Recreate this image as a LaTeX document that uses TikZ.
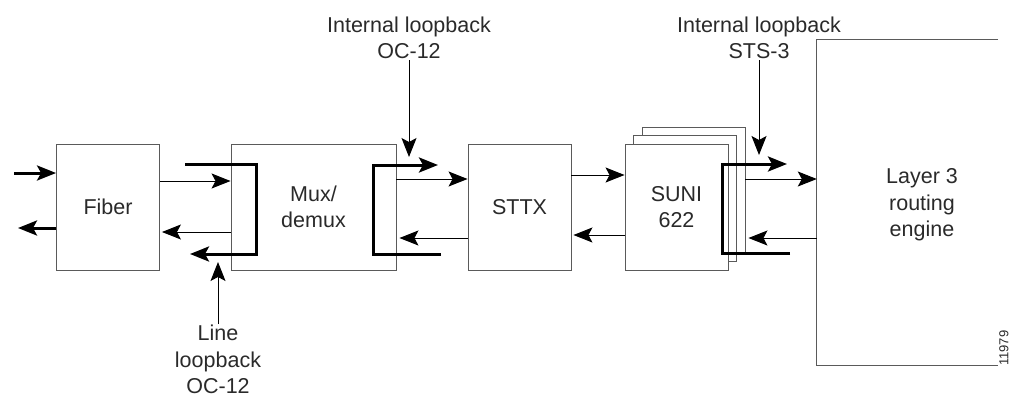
\documentclass[tikz,border=0pt]{standalone}
\usepackage{fontspec}
\setmainfont{Liberation Sans}
\usetikzlibrary{arrows.meta,positioning}
\definecolor{edge}{HTML}{5A5A5A}
\definecolor{ink}{HTML}{2A2A2A}
\tikzset{
  blk/.style={draw=edge,line width=0.9pt,fill=white,inner sep=0pt,
    minimum width=103pt,minimum height=126pt,align=center,text=ink,
    font=\fontsize{21.5}{26}\selectfont},
  lbl/.style={align=center,text=ink,inner sep=1pt,
    font=\fontsize{21.5}{26.5}\selectfont},
  tip/.style={-{Stealth[length=19pt,width=15pt,inset=4pt]}},
  thin/.style={tip,line width=1pt},
  thick/.style={tip,line width=3pt},
}
\begin{document}
\begin{tikzpicture}[x=1pt,y=-1pt]
\useasboundingbox (0,0) rectangle (1011,400);

% functional blocks
\node[blk] (fiber) at (108,207) {Fiber};
\node[blk,minimum width=165pt] (mux) at (313.5,207) {Mux/\\demux};
\node[blk] (sttx) at (519.5,207) {STTX};
\node[blk] (suniC) at (693.5,190) {};
\node[blk] (suniB) at (685,198.5) {};
\node[blk] (suni) at (676.5,207) {SUNI\\622};

% routing engine: open frame on the right
\node[minimum width=181pt,minimum height=325pt,inner sep=0pt] (l3) at (907.5,202.5) {};
\draw[draw=edge,line width=0.9pt] (l3.north east) -- (l3.north west) -- (l3.south west) -- (l3.south east);
\node[lbl] (l3txt) at (922,205) {Layer 3\\routing\\engine};

% external fiber ports
\coordinate (inS) at (14,173);
\coordinate (outE) at (18,228);
\draw[thick] (inS) -- (fiber.west |- inS);
\draw[thick] ([yshift=-21pt]fiber.west) -- (outE);

% data paths between blocks
\draw[thin] ([yshift=26pt]fiber.east) -- ([yshift=26pt]mux.west);
\draw[thin] ([yshift=-25pt]mux.west) -- ([yshift=-25pt,xshift=2pt]fiber.east);
\draw[thin] ([yshift=28pt]mux.east) -- ([yshift=28pt]sttx.west);
\draw[thin] ([yshift=-31pt]sttx.west) -- ([yshift=-31pt,xshift=3pt]mux.east);
\draw[thin] ([yshift=32pt]sttx.east) -- ([yshift=32pt]suni.west);
\draw[thin] ([yshift=-28pt]suni.west) -- ([yshift=-28pt,xshift=2pt]sttx.east);
\draw[thin] (suniC.east |- 0,179) -- (l3.west |- 0,179);
\draw[thin] (l3.west |- 0,238) -- ([xshift=3pt]suniC.east |- 0,238);

% loopback paths
\coordinate (llA) at (185,164);
\coordinate (llB) at (256,164);
\coordinate (llC) at (256,254);
\coordinate (llD) at (190,254);
\draw[thick,line join=miter] (llA) -- (llB) -- (llC) -- (llD);

\coordinate (ilA) at (441,254);
\coordinate (ilB) at (373,254);
\coordinate (ilC) at (373,165);
\coordinate (ilD) at (438,165);
\draw[thick,line join=miter] (ilA) -- (ilB) -- (ilC) -- (ilD);

\coordinate (isA) at (790,253);
\coordinate (isB) at (722,253);
\coordinate (isC) at (722,164);
\coordinate (isD) at (787,164);
\draw[thick,line join=miter] (isA) -- (isB) -- (isC) -- (isD);

% loopback callouts
\node[lbl,anchor=south] (cOC) at (409,60) {Internal loopback\\OC-12};
\coordinate (cOCt) at (409,157);
\draw[thin] (cOC.south) -- (cOCt);

\node[lbl,anchor=south] (cSTS) at (759,60) {Internal loopback\\STS-3};
\coordinate (cSTSt) at (759,155);
\draw[thin] (cSTS.south) -- (cSTSt);

\node[lbl,anchor=north] (cLL) at (218,324) {Line\\loopback\\OC-12};
\coordinate (cLLt) at (218,262);
\draw[thin] (cLL.north) -- (cLLt);

% figure number
\node[rotate=90,anchor=west,text=ink,inner sep=0pt,font=\fontsize{13}{15}\selectfont] (fig) at (1004,366) {11979};
\end{tikzpicture}
\end{document}
